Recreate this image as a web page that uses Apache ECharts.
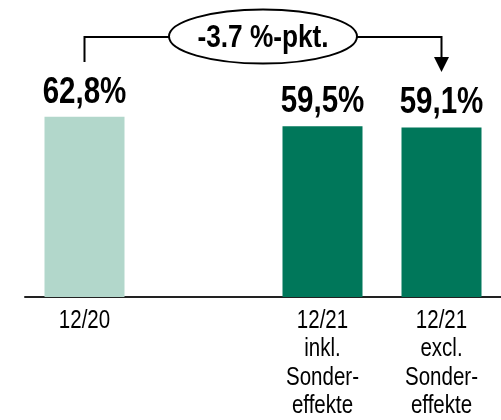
<!DOCTYPE html>
<html>
<head>
<meta charset="utf-8">
<script src="https://cdn.jsdelivr.net/npm/echarts@6/dist/echarts.min.js"></script>
<style>
  html, body { margin: 0; padding: 0; background: #fff; }
  #chart { width: 501px; height: 420px; }
</style>
</head>
<body>
<div id="chart"></div>
<script>
const categories = ['12/20', '', '12/21\ninkl.\nSonder-\neffekte', '12/21\nexcl.\nSonder-\neffekte'];
const values = [62.8, null, 59.5, 59.1];
const deltaLabel = '-3.7 %-pkt.';

// no Arial Narrow in the sandbox: squeeze Liberation Sans (Arial metrics) instead
const FONT = '"Liberation Sans", Arial, sans-serif';
const NARROW = 0.82;
const LIGHT = '#b2d7cb';
const DARK = '#00775a';

const chart = echarts.init(document.getElementById('chart'));

function fmt(v) {
    return v.toFixed(1).replace('.', ',') + '%';
}

chart.setOption({
    animation: false,
    grid: { left: 25, width: 478, top: 10, height: 287 },
    xAxis: {
        type: 'category',
        data: categories,
        axisTick: { show: false },
        axisLine: { lineStyle: { color: '#222', width: 2 } },
        axisLabel: { show: false }
    },
    yAxis: {
        type: 'value',
        min: 0,
        max: 100,
        show: false,
        splitLine: { show: false }
    },
    series: [
        {
            type: 'bar',
            barWidth: 80,
            data: values.map((v, i) => ({
                value: v,
                itemStyle: { color: i === 0 ? LIGHT : DARK }
            }))
        },
        {
            // value labels and category labels, condensed
            type: 'custom',
            silent: true,
            data: categories.map((c, i) => [i, values[i] == null ? 0 : values[i]]),
            renderItem: function (params, api) {
                const i = api.value(0);
                const v = values[i];
                const top = api.coord([i, v == null ? 0 : v]);
                const base = api.coord([i, 0]);
                const children = [];
                if (v != null) {
                    children.push({
                        type: 'text',
                        x: top[0],
                        y: top[1] - 6,
                        scaleX: NARROW,
                        style: {
                            text: fmt(v),
                            fill: '#000',
                            font: 'bold 36px ' + FONT,
                            align: 'center',
                            verticalAlign: 'bottom'
                        }
                    });
                }
                if (categories[i]) {
                    children.push({
                        type: 'text',
                        x: base[0],
                        y: base[1] + 9.6,
                        scaleX: NARROW,
                        style: {
                            text: categories[i],
                            fill: '#000',
                            font: '25px ' + FONT,
                            lineHeight: 28.5,
                            align: 'center',
                            verticalAlign: 'top'
                        }
                    });
                }
                return { type: 'group', children: children };
            }
        }
    ]
});

// bracket annotation between first and last bar
const x0 = chart.convertToPixel({ xAxisIndex: 0 }, 0);
const x3 = chart.convertToPixel({ xAxisIndex: 0 }, 3);
const xm = (x0 + x3) / 2;
const yLine = 37;
const rx = 94, ry = 27;

chart.setOption({
    graphic: [
        {
            type: 'polyline',
            shape: { points: [[x0, 62], [x0, yLine], [xm - rx, yLine]] },
            style: { stroke: '#000', lineWidth: 2, fill: null }
        },
        {
            type: 'polyline',
            shape: { points: [[xm + rx, yLine], [x3, yLine], [x3, 60]] },
            style: { stroke: '#000', lineWidth: 2, fill: null }
        },
        {
            type: 'polygon',
            shape: { points: [[x3 - 7.5, 57], [x3 + 7.5, 57], [x3, 72]] },
            style: { fill: '#000' }
        },
        {
            type: 'ellipse',
            shape: { cx: xm, cy: 36.5, rx: rx, ry: ry },
            style: { stroke: '#000', lineWidth: 2, fill: '#fff' }
        },
        {
            type: 'text',
            x: xm,
            y: 38,
            scaleX: NARROW,
            style: {
                text: deltaLabel,
                fill: '#000',
                font: 'bold 32px ' + FONT,
                align: 'center',
                verticalAlign: 'middle'
            }
        }
    ]
});
</script>
</body>
</html>
